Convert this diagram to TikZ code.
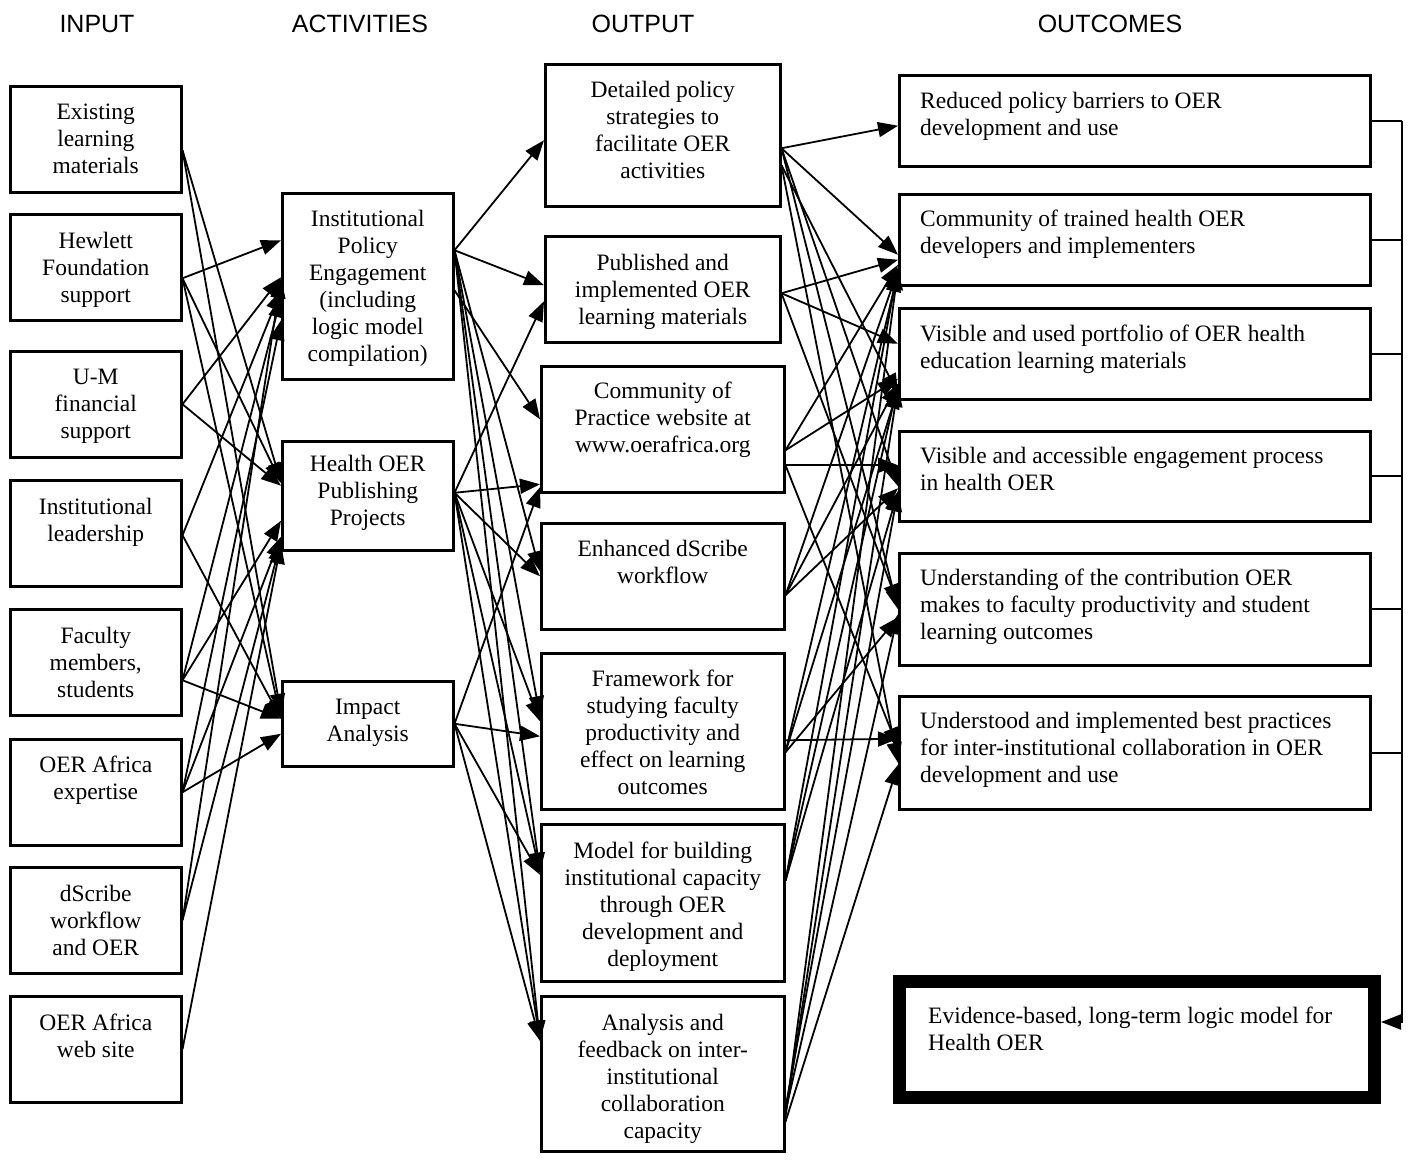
\documentclass[tikz,border=0pt]{standalone}
\usepackage{fontspec}
\setmainfont{Liberation Serif}
\newfontfamily\hdrfont{Liberation Sans}
\usetikzlibrary{arrows.meta,calc}
\newcommand\myconn[4]{\draw[arr] ($(#1.east)+(0,#2)$) -- ($(#3.west)+(0,#4)$);}
\begin{document}
\begin{tikzpicture}[x=1pt,y=-1pt,
  box/.style={draw, line width=2.5pt, inner sep=0pt, anchor=north west},
  txt/.style={inner sep=0pt, align=center, font=\fontsize{23.5}{27}\selectfont, execute at begin node=\strut},
  ltxt/.style={txt, align=left, anchor=north west},
  hdr/.style={inner sep=0pt, font=\hdrfont\fontsize{25}{30}\selectfont},
  arr/.style={line width=1.8pt, -{Triangle[length=20pt,width=15pt]}},
  brk/.style={line width=2pt}]
\useasboundingbox (0,0) rectangle (1413,1163);
% headers
\node[hdr] (h1) at (97,24) {INPUT};
\node[hdr] (h2) at (360,24) {ACTIVITIES};
\node[hdr] (h3) at (643,24) {OUTPUT};
\node[hdr] (h4) at (1110,24) {OUTCOMES};
% inputs
\foreach \n/\t in {i1/85,i2/213,i3/350,i4/479,i5/608,i6/738,i7/866,i8/995}
  \node[box, minimum width=171pt, minimum height=106pt] (\n) at (9,\t) {};
\node[txt, anchor=north] (ti1) at ($(i1.north)+(0,19)$) {Existing\\learning\\materials};
\node[txt, anchor=north] (ti2) at ($(i2.north)+(0,19)$) {Hewlett\\Foundation\\support};
\node[txt, anchor=north] (ti3) at ($(i3.north)+(0,19)$) {U-M\\financial\\support};
\node[txt, anchor=north] (ti4) at ($(i4.north)+(0,19)$) {Institutional\\leadership};
\node[txt, anchor=north] (ti5) at ($(i5.north)+(0,19)$) {Faculty\\members,\\students};
\node[txt, anchor=north] (ti6) at ($(i6.north)+(0,18)$) {OER Africa\\expertise};
\node[txt, anchor=north] (ti7) at ($(i7.north)+(0,19)$) {dScribe\\workflow\\and OER};
\node[txt, anchor=north] (ti8) at ($(i8.north)+(0,19)$) {OER Africa\\web site};
% activities
\node[box, minimum width=171pt, minimum height=186pt] (a1) at (281,192) {};
\node[box, minimum width=171pt, minimum height=109pt] (a2) at (281,440) {};
\node[box, minimum width=171pt, minimum height=85pt] (a3) at (281,680) {};
\node[txt, anchor=north] (ta1) at ($(a1.north)+(0,18)$) {Institutional\\Policy\\Engagement\\(including\\logic model\\compilation)};
\node[txt, anchor=north] (ta2) at ($(a2.north)+(0,15)$) {Health OER\\Publishing\\Projects};
\node[txt, anchor=north] (ta3) at ($(a3.north)+(0,19)$) {Impact\\Analysis};
% outputs
\node[box, minimum width=235pt, minimum height=142pt] (p1) at (544,63) {};
\node[box, minimum width=235pt, minimum height=106pt] (p2) at (544,235) {};
\node[box, minimum width=243pt, minimum height=126pt] (p3) at (540,365) {};
\node[box, minimum width=243pt, minimum height=106pt] (p4) at (540,522) {};
\node[box, minimum width=243pt, minimum height=156pt] (p5) at (540,652) {};
\node[box, minimum width=243pt, minimum height=157pt] (p6) at (540,823) {};
\node[box, minimum width=243pt, minimum height=155pt] (p7) at (540,995) {};
\node[txt, anchor=north] (tp1) at ($(p1.north)+(0,18)$) {Detailed policy\\strategies to\\facilitate OER\\activities};
\node[txt, anchor=north] (tp2) at ($(p2.north)+(0,19)$) {Published and\\implemented OER\\learning materials};
\node[txt, anchor=north] (tp3) at ($(p3.north)+(0,17)$) {Community of\\Practice website at\\www.oerafrica.org};
\node[txt, anchor=north] (tp4) at ($(p4.north)+(0,18)$) {Enhanced dScribe\\workflow};
\node[txt, anchor=north] (tp5) at ($(p5.north)+(0,18)$) {Framework for\\studying faculty\\productivity and\\effect on learning\\outcomes};
\node[txt, anchor=north] (tp6) at ($(p6.north)+(0,19)$) {Model for building\\institutional capacity\\through OER\\development and\\deployment};
\node[txt, anchor=north] (tp7) at ($(p7.north)+(0,19)$) {Analysis and\\feedback on inter-\\institutional\\collaboration\\capacity};
% outcomes
\node[box, minimum width=471pt, minimum height=91pt] (o1) at (898,74) {};
\node[box, minimum width=471pt, minimum height=91pt] (o2) at (898,193) {};
\node[box, minimum width=471pt, minimum height=91pt] (o3) at (898,307) {};
\node[box, minimum width=471pt, minimum height=90pt] (o4) at (898,430) {};
\node[box, minimum width=471pt, minimum height=112pt] (o5) at (898,552) {};
\node[box, minimum width=471pt, minimum height=113pt] (o6) at (898,695) {};
\node[box, line width=13pt, minimum width=475pt, minimum height=116pt] (ev) at (893,975) {};
\node[ltxt] (to1) at ($(o1.north west)+(22,18)$) {Reduced policy barriers to OER\\development and use};
\node[ltxt] (to2) at ($(o2.north west)+(22,17)$) {Community of trained health OER\\developers and implementers};
\node[ltxt] (to3) at ($(o3.north west)+(22,18)$) {Visible and used portfolio of OER health\\education learning materials};
\node[ltxt] (to4) at ($(o4.north west)+(22,17)$) {Visible and accessible engagement process\\in health OER};
\node[ltxt] (to5) at ($(o5.north west)+(22,17)$) {Understanding of the contribution OER\\makes to faculty productivity and student\\learning outcomes};
\node[ltxt] (to6) at ($(o6.north west)+(22,17)$) {Understood and implemented best practices\\for inter-institutional collaboration in OER\\development and use};
\node[ltxt] (tev) at (928,1007) {Evidence-based, long-term logic model for\\Health OER};
% bracket
\coordinate (bx) at (1402,0);
\coordinate (evtip) at (1381,1022);
\foreach \n in {o1,o2,o3,o4,o5,o6}
  \draw[brk] (\n.east) -- (\n.east -| bx);
\draw[brk, -{Triangle[length=20pt,width=15pt]}] (o1.east -| bx) -- (bx |- evtip) -- (evtip);
% input -> activities
\myconn{i1}{11}{a2}{-13}
\myconn{i1}{11}{a3}{-10}
\myconn{i2}{11}{a1}{-46}
\myconn{i2}{11}{a2}{-13}
\myconn{i2}{11}{a3}{-5}
\myconn{i3}{0}{a1}{-9}
\myconn{i3}{0}{a2}{-10}
\myconn{i4}{2}{a1}{4}
\myconn{i4}{2}{a3}{-5}
\myconn{i5}{18}{a1}{11}
\myconn{i5}{18}{a2}{25}
\myconn{i5}{18}{a3}{-5}
\myconn{i6}{0}{a1}{34}
\myconn{i6}{0}{a2}{41}
\myconn{i6}{0}{a3}{10}
\myconn{i7}{0}{a1}{-8}
\myconn{i7}{0}{a2}{45}
\myconn{i8}{0}{a2}{48}
% activities -> outputs
\myconn{a1}{-36}{p1}{5}
\myconn{a1}{-36}{p2}{-4}
\myconn{a1}{4}{p3}{-10}
\myconn{a1}{-36}{p4}{-5}
\myconn{a1}{-36}{p5}{-15}
\myconn{a1}{-36}{p6}{-30}
\myconn{a1}{-36}{p7}{-33}
\myconn{a2}{-3}{p2}{12}
\myconn{a2}{-3}{p3}{55}
\myconn{a2}{-3}{p4}{0}
\myconn{a2}{-3}{p5}{-10}
\myconn{a2}{-3}{p6}{-30}
\myconn{a2}{-3}{p7}{-33}
\myconn{a3}{0}{p3}{58}
\myconn{a3}{0}{p5}{5}
\myconn{a3}{0}{p6}{-28}
\myconn{a3}{0}{p7}{-33}
% outputs -> outcomes
\myconn{p1}{13}{o1}{5}
\myconn{p1}{13}{o2}{15}
\myconn{p1}{30}{o3}{40}
\myconn{p1}{13}{o4}{10}
\myconn{p1}{13}{o5}{0}
\myconn{p1}{30}{o6}{10}
\myconn{p2}{4}{o2}{20}
\myconn{p2}{4}{o3}{-10}
\myconn{p2}{4}{o5}{-5}
\myconn{p3}{21}{o2}{25}
\myconn{p3}{21}{o3}{25}
\myconn{p3}{36}{o4}{-11}
\myconn{p3}{36}{o6}{-5}
\myconn{p4}{19}{o2}{30}
\myconn{p4}{19}{o3}{30}
\myconn{p4}{19}{o4}{12}
\myconn{p5}{9}{o6}{-14}
\myconn{p5}{21}{o5}{8}
\myconn{p5}{21}{o2}{32}
\myconn{p5}{21}{o3}{35}
\myconn{p6}{-22}{o2}{28}
\myconn{p6}{-22}{o3}{30}
\myconn{p6}{-22}{o4}{15}
\myconn{p7}{42}{o2}{30}
\myconn{p7}{42}{o3}{33}
\myconn{p7}{34}{o4}{15}
\myconn{p7}{38}{o5}{5}
\myconn{p7}{48}{o6}{12}
\end{tikzpicture}
\end{document}
